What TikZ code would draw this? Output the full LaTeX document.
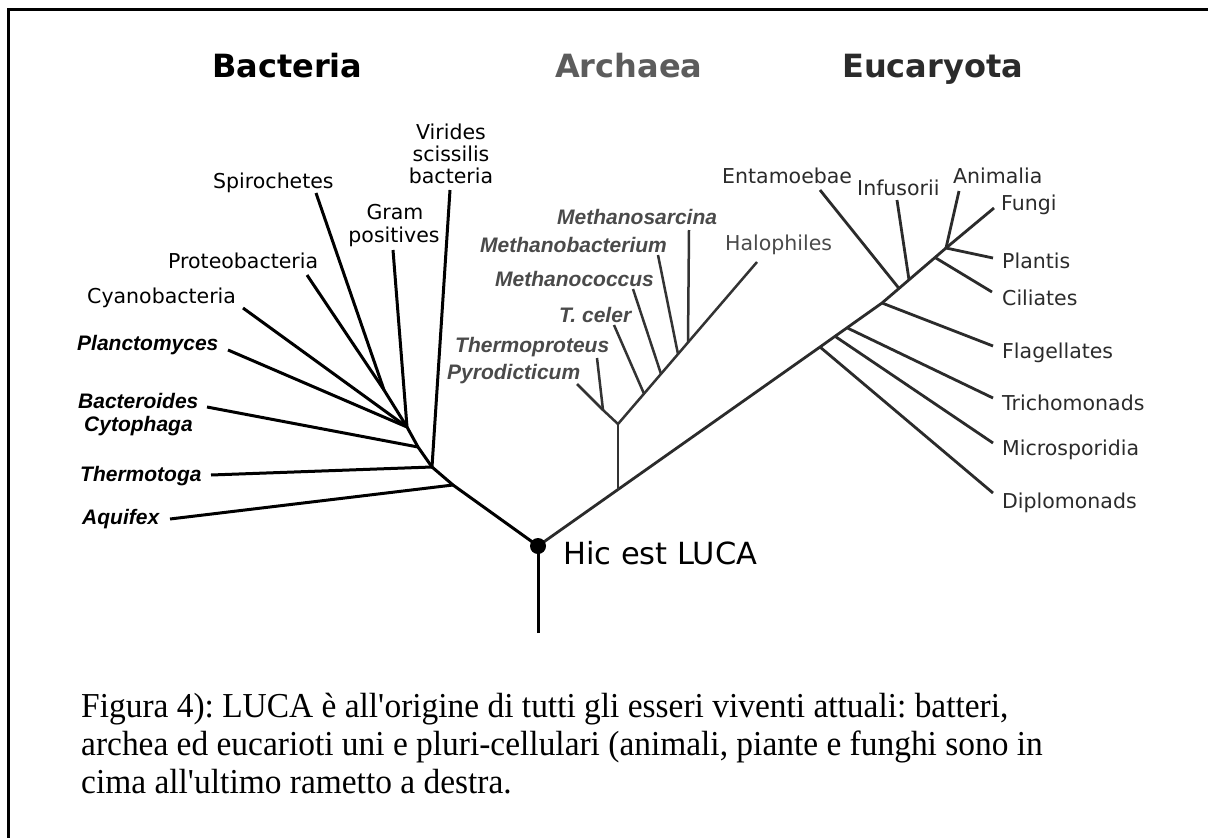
\documentclass[tikz,border=0pt]{standalone}
\usepackage{fontspec}
\setmainfont{Liberation Serif}
\newfontfamily\capfont{Liberation Serif}[FakeStretch=0.955]
\newfontfamily\dvs{DejaVu Sans}
\newfontfamily\lsans{Liberation Sans}
\definecolor{archgray}{HTML}{4A4A4A}
\definecolor{eukgray}{HTML}{2B2B2B}
\definecolor{archline}{HTML}{333333}
\frenchspacing
\begin{document}
\begin{tikzpicture}[x=1pt,y=-1pt,
  lbl/.style={font=\dvs\fontsize{20.5}{24}\selectfont, inner sep=0pt},
  ilbl/.style={font=\lsans\bfseries\itshape\fontsize{21}{24}\selectfont, inner sep=0pt},
  head/.style={font=\dvs\bfseries\fontsize{32}{36}\selectfont, inner sep=0pt, anchor=base west},
  captxt/.style={font=\capfont\fontsize{35}{38}\selectfont, inner sep=0pt, anchor=base west},
  bline/.style={line width=3pt, black},
  aline/.style={line width=2.5pt, archline},
  eline/.style={line width=2.8pt, eukgray},
  frameline/.style={line width=3pt, black}]
\useasboundingbox (0,0) rectangle (1208,838);
\fill[white] (0,0) rectangle (1208,838);
% frame
\coordinate (fb) at (8.5,838);
\coordinate (fc) at (8.5,9.5);
\coordinate (fr) at (1208,9.5);
\draw[frameline] (fb) -- (fc) -- (fr);

% headers
\node[head, text=black] (hB) at (212,77) {Bacteria};
\node[head, text=archgray!90!white] (hA) at (555,77) {Archaea};
\node[head, text=eukgray] (hE) at (842,77) {Eucaryota};

% ---------- coordinates ----------
\coordinate (luca) at (538,546);
\coordinate (root) at (538,633);
% bacteria
\coordinate (bA) at (453,485);
\coordinate (bJ1) at (432,467);
\coordinate (bBc) at (418,447);
\coordinate (bJ2) at (407,427);
\coordinate (bSP) at (384,390);
\coordinate (aqE) at (170,519);
\coordinate (thE) at (211,475);
\coordinate (bcE) at (207,407);
\coordinate (plE) at (228,350);
\coordinate (cyE) at (243,308);
\coordinate (prE) at (307,275);
\coordinate (spE) at (316,193);
\coordinate (grE) at (393,250);
\coordinate (viE) at (450,190);
% archaea
\coordinate (ar0) at (618,489.5);
\coordinate (ar1) at (618,424);
\coordinate (aPT) at (603,410);
\coordinate (pyE) at (577,384);
\coordinate (tpE) at (597,358);
\coordinate (tcJ) at (644,393.7);
\coordinate (tcE) at (614,325);
\coordinate (mcJ) at (661,373.9);
\coordinate (mcE) at (633,289);
\coordinate (mbJ) at (678,354.1);
\coordinate (mbE) at (658,255);
\coordinate (msJ) at (688,342.4);
\coordinate (msE) at (689,230);
\coordinate (haE) at (757,262);
% eukaryota
\coordinate (dJ) at (820,347);
\coordinate (mJ) at (835,336.3);
\coordinate (tJ) at (847,327.8);
\coordinate (fJ) at (882,303);
\coordinate (eJ) at (899,288.4);
\coordinate (iJ) at (909,279.8);
\coordinate (cJ) at (935,257.5);
\coordinate (topJ) at (946,248);
\coordinate (diE) at (993,493);
\coordinate (miE) at (993,443);
\coordinate (trE) at (993,398);
\coordinate (flE) at (993,346);
\coordinate (ciE) at (992,292);
\coordinate (ptE) at (993,258);
\coordinate (fuE) at (994,208);
\coordinate (anE) at (959,191);
\coordinate (inE) at (897,200);
\coordinate (enE) at (820,190);

% ---------- branches ----------
\draw[bline] (root) -- (luca);
\draw[bline, line join=round] (luca) -- (bA) -- (bJ1) -- (bBc) -- (bJ2) -- (bSP);
\draw[bline] (bA) -- (aqE);
\draw[bline] (bJ1) -- (thE);
\draw[bline] (bJ1) -- (viE);
\draw[bline] (bBc) -- (bcE);
\draw[bline] (bJ2) -- (plE);
\draw[bline] (bJ2) -- (cyE);
\draw[bline] (bJ2) -- (grE);
\draw[bline] (bSP) -- (prE);
\draw[bline] (bSP) -- (spE);

\draw[eline, line join=round] (luca) -- (ar0) -- (dJ) -- (mJ) -- (tJ) -- (fJ) -- (eJ) -- (iJ) -- (cJ) -- (topJ);
\draw[aline] (ar0) -- (ar1);
\draw[aline] (ar1) -- (tcJ) -- (mcJ) -- (mbJ) -- (msJ) -- (haE);
\draw[aline] (ar1) -- (aPT) -- (pyE);
\draw[aline] (aPT) -- (tpE);
\draw[aline] (tcJ) -- (tcE);
\draw[aline] (mcJ) -- (mcE);
\draw[aline] (mbJ) -- (mbE);
\draw[aline] (msJ) -- (msE);

\draw[eline] (dJ) -- (diE);
\draw[eline] (mJ) -- (miE);
\draw[eline] (tJ) -- (trE);
\draw[eline] (fJ) -- (flE);
\draw[eline] (eJ) -- (enE);
\draw[eline] (iJ) -- (inE);
\draw[eline] (cJ) -- (ciE);
\draw[eline] (topJ) -- (ptE);
\draw[eline] (topJ) -- (fuE);
\draw[eline] (topJ) -- (anE);

\fill[black] (luca) circle (8);
\node[font=\dvs\fontsize{30.5}{34}\selectfont, inner sep=0pt, anchor=base west] (lucalbl) at (563,564) {Hic est LUCA};

% ---------- bacteria labels ----------
\node[lbl, anchor=base] (tVi1) at (451,139) {Virides};
\node[lbl, anchor=base] (tVi2) at (451,161) {scissilis};
\node[lbl, anchor=base] (tVi3) at (451,183) {bacteria};
\node[lbl, anchor=base west] (tSp) at (213,188) {Spirochetes};
\node[lbl, anchor=base] (tGr1) at (395,219) {Gram};
\node[lbl, anchor=base] (tGr2) at (394,242) {positives};
\node[lbl, anchor=base west] (tPr) at (168,268) {Proteobacteria};
\node[lbl, anchor=base west] (tCy) at (87,303) {Cyanobacteria};
\node[ilbl, anchor=base west] (tPl) at (77,350) {Planctomyces};
\node[ilbl, anchor=base west] (tBc1) at (78,408) {Bacteroides};
\node[ilbl, anchor=base west] (tBc2) at (84,431) {Cytophaga};
\node[ilbl, anchor=base west] (tTh) at (80,481) {Thermotoga};
\node[ilbl, anchor=base west] (tAq) at (82,524) {Aquifex};

% ---------- archaea labels ----------
\begin{scope}[every node/.append style={text=archgray}]
\node[ilbl, anchor=base west] (tMs) at (557,224) {Methanosarcina};
\node[ilbl, anchor=base west] (tMb) at (480,252) {Methanobacterium};
\node[ilbl, anchor=base west] (tMc) at (495,286) {Methanococcus};
\node[ilbl, anchor=base west] (tTc) at (559,322) {T. celer};
\node[ilbl, anchor=base west] (tTp) at (455,352) {Thermoproteus};
\node[ilbl, anchor=base west] (tPy) at (447,379) {Pyrodicticum};
\node[lbl, anchor=base west] (tHa) at (725,250) {Halophiles};
\end{scope}

% ---------- eukaryota labels ----------
\begin{scope}[every node/.append style={text=eukgray}]
\node[lbl, anchor=base west] (tEn) at (722,183) {Entamoebae};
\node[lbl, anchor=base west] (tIn) at (857,195) {Infusorii};
\node[lbl, anchor=base west] (tAn) at (953,183) {Animalia};
\node[lbl, anchor=base west] (tFu) at (1001,210) {Fungi};
\node[lbl, anchor=base west] (tPt) at (1002,268) {Plantis};
\node[lbl, anchor=base west] (tCi) at (1002,305) {Ciliates};
\node[lbl, anchor=base west] (tFl) at (1002,358) {Flagellates};
\node[lbl, anchor=base west] (tTr) at (1002,410) {Trichomonads};
\node[lbl, anchor=base west] (tMi) at (1002,455) {Microsporidia};
\node[lbl, anchor=base west] (tDi) at (1002,508) {Diplomonads};
\end{scope}

% ---------- caption ----------
\node[captxt] (c1) at (81,717) {Figura 4): LUCA è all\textquotesingle origine di tutti gli esseri viventi attuali: batteri,};
\node[captxt] (c2) at (81,755) {archea ed eucarioti uni e pluri-cellulari (animali, piante e funghi sono in};
\node[captxt] (c3) at (81,793) {cima all\textquotesingle ultimo rametto a destra.};
\end{tikzpicture}
\end{document}
